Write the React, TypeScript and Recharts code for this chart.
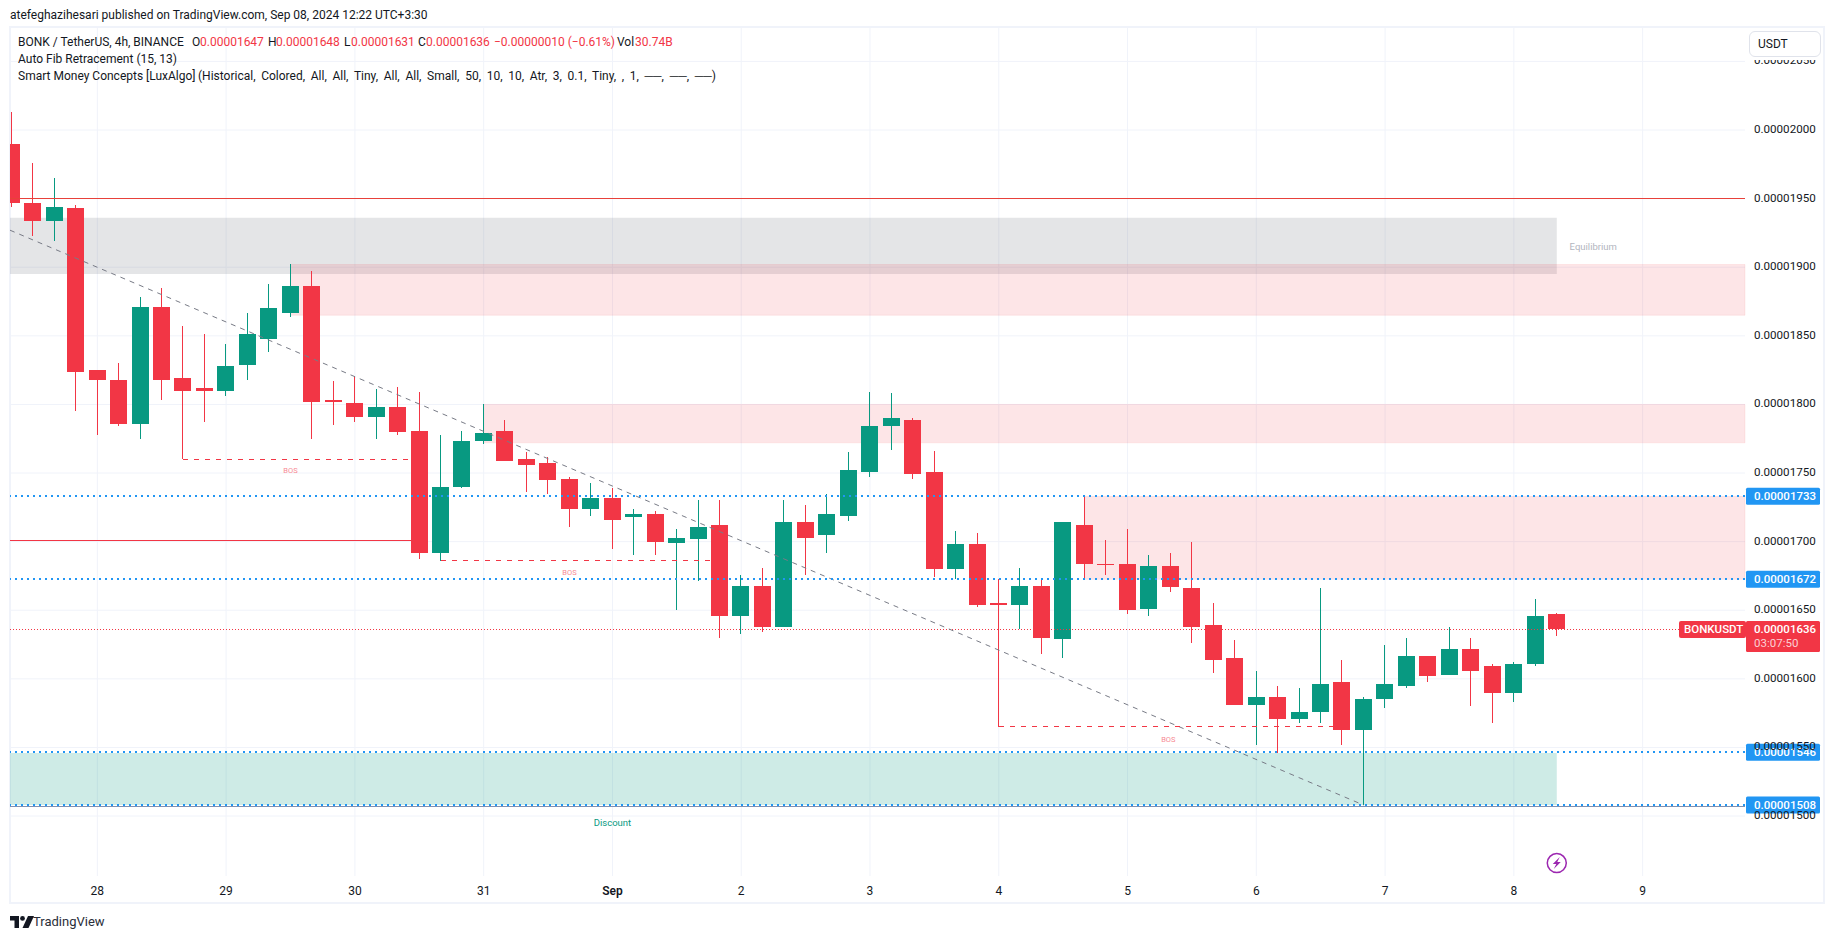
import React from 'react';
import {
  ComposedChart,
  Bar,
  XAxis,
  YAxis,
  CartesianGrid,
  ReferenceArea,
  ReferenceLine,
  ReferenceDot,
} from 'recharts';

// prices are kept in 1e-8 USDT so the arrays stay readable
const opens = [1990, 1947, 1934, 1943, 1825, 1818, 1786, 1871, 1819, 1812, 1810, 1829, 1848, 1867, 1886, 1803, 1801, 1791, 1798, 1781, 1692, 1740, 1773, 1781, 1760, 1757, 1746, 1724, 1732, 1718, 1720, 1699, 1702, 1712, 1646, 1668, 1638, 1714, 1705, 1719, 1751, 1784, 1789, 1751, 1680, 1698, 1655, 1654, 1668, 1629, 1712, 1684, 1684, 1651, 1682, 1666, 1639, 1615, 1581, 1587, 1571, 1576, 1598, 1563, 1585, 1595, 1617, 1603, 1622, 1609, 1590, 1611, 1647];
const highs = [2013, 1976, 1965, 1945, 1825, 1830, 1878, 1885, 1857, 1851, 1844, 1867, 1888, 1902, 1897, 1817, 1821, 1811, 1813, 1809, 1778, 1781, 1800, 1789, 1765, 1762, 1747, 1743, 1739, 1724, 1722, 1709, 1730, 1730, 1676, 1681, 1730, 1727, 1735, 1765, 1809, 1808, 1790, 1766, 1708, 1706, 1673, 1681, 1673, 1714, 1733, 1701, 1709, 1690, 1692, 1700, 1655, 1628, 1606, 1595, 1593, 1666, 1614, 1587, 1625, 1630, 1617, 1638, 1630, 1611, 1612, 1658, 1648];
const lows = [1944, 1923, 1919, 1795, 1778, 1784, 1775, 1803, 1760, 1787, 1806, 1818, 1838, 1864, 1775, 1785, 1787, 1775, 1778, 1687, 1686, 1739, 1771, 1759, 1736, 1735, 1711, 1719, 1695, 1690, 1690, 1650, 1671, 1630, 1633, 1634, 1638, 1676, 1692, 1715, 1747, 1767, 1746, 1674, 1673, 1652, 1565, 1636, 1618, 1615, 1673, 1676, 1647, 1646, 1663, 1626, 1604, 1581, 1552, 1546, 1568, 1568, 1552, 1508, 1579, 1593, 1598, 1603, 1580, 1568, 1583, 1609, 1631];
const closes = [1947, 1934, 1944, 1824, 1818, 1786, 1871, 1818, 1810, 1810, 1828, 1851, 1870, 1886, 1802, 1802, 1791, 1798, 1780, 1692, 1740, 1773, 1779, 1759, 1756, 1745, 1724, 1732, 1716, 1720, 1700, 1703, 1711, 1646, 1668, 1638, 1714, 1703, 1720, 1752, 1784, 1790, 1749, 1680, 1698, 1654, 1654, 1668, 1630, 1714, 1684, 1683, 1650, 1682, 1667, 1638, 1614, 1581, 1587, 1571, 1576, 1596, 1563, 1585, 1596, 1617, 1602, 1622, 1606, 1590, 1611, 1646, 1636];

const priceTicks = [1500, 1550, 1600, 1650, 1700, 1750, 1800, 1850, 1900, 1950, 2000, 2050];
const timeTicks = [4, 10, 16, 22, 28, 34, 40, 46, 52, 58, 64, 70, 76];
const timeLabels = ['28', '29', '30', '31', 'Sep', '2', '3', '4', '5', '6', '7', '8', '9'];

// zones: [from bar, top, bottom]
const supplyZones = [
  [13, 1902, 1865],
  [22, 1800, 1772],
  [50, 1733, 1672.5],
];
// labels show the level cut to 8 decimals
const fibLevels = [1733, 1672.5, 1546.5, 1508];
// BOS segments: [from bar, to bar, price], label: [bar, price]
const bosLines = [
  [8, 19, 1760],
  [20, 33, 1686],
  [46, 62, 1565],
];
const bosLabels = [
  [13, 1752],
  [26, 1678],
  [53.9, 1556.5],
];

const data = opens.map((open, i) => ({
  bar: i,
  open,
  high: highs[i],
  low: lows[i],
  close: closes[i],
}));

const UP = '#089981';
const DOWN = '#f23645';
const FONT = 'Roboto, sans-serif';
const X_MIN = -0.07;
const X_MAX = 80.77;

const fmt = (v: number) => (Math.floor(v) / 1e8).toFixed(8);

const Candle = (props: any) => {
  const { x, y, width, height, payload } = props;
  const { open, high, low, close } = payload;
  const k = height / (high - low);
  const top = y + (high - Math.max(open, close)) * k;
  const bodyH = Math.max(Math.abs(open - close) * k, 1);
  const color = close >= open ? UP : DOWN;
  const cx = x + width / 2;
  return (
    <g shapeRendering="crispEdges">
      <line x1={cx} x2={cx} y1={y} y2={y + height} stroke={color} strokeWidth={1} />
      <rect x={x} y={top} width={width} height={bodyH} fill={color} />
    </g>
  );
};

const TimeTick = (props: any) => {
  const { x, y, payload } = props;
  const label = timeLabels[timeTicks.indexOf(payload.value)];
  return (
    <text
      x={x}
      y={y}
      dy={11}
      textAnchor="middle"
      fontFamily={FONT}
      fontSize={12}
      fontWeight={label === 'Sep' ? 600 : 400}
      fill="#131722"
    >
      {label}
    </text>
  );
};

const PriceTick = (props: any) => {
  const { x, y, payload } = props;
  return (
    <text x={x} y={y} dy={3} fontFamily={FONT} fontSize={11.6} fill="#131722">
      {fmt(payload.value)}
    </text>
  );
};

const PriceTag = (props: any) => {
  const { cx, cy, text } = props;
  return (
    <g>
      <rect x={cx + 1} y={cy - 8.5} width={74} height={17} rx={1.5} fill="#2196f3" />
      <text x={cx + 9} y={cy + 4} fontFamily={FONT} fontSize={11.5} fontWeight={500} fill="#fff">
        {text}
      </text>
    </g>
  );
};

const LastPriceTag = (props: any) => {
  const { cx, cy } = props;
  return (
    <g>
      <rect x={cx - 66} y={cy - 8.5} width={67} height={17} rx={2} fill={DOWN} />
      <text x={cx - 61} y={cy + 4} fontFamily={FONT} fontSize={11.5} fontWeight={500} fill="#fff">
        BONKUSDT
      </text>
      <rect x={cx + 1} y={cy - 8.5} width={74} height={31} rx={1.5} fill={DOWN} />
      <text x={cx + 9} y={cy + 4} fontFamily={FONT} fontSize={11.5} fontWeight={500} fill="#fff">
        {fmt(closes[closes.length - 1])}
      </text>
      <text x={cx + 9} y={cy + 18} fontFamily={FONT} fontSize={11.5} fill="#fbd0d4">
        03:07:50
      </text>
    </g>
  );
};

const BoltIcon = (props: any) => {
  const { cx, cy } = props;
  return (
    <g>
      <circle cx={cx} cy={cy} r={9.5} fill="#fff" stroke="#9c27b0" strokeWidth={1.5} />
      <path
        d={`M${cx + 3} ${cy - 6} L${cx - 4} ${cy + 1} L${cx - 0.5} ${cy + 1} L${cx - 3} ${cy + 6} L${cx + 4} ${cy - 1} L${cx + 0.5} ${cy - 1} Z`}
        fill="#9c27b0"
      />
    </g>
  );
};

const SmallText = (props: any) => {
  const { cx, cy, text, color, size } = props;
  return (
    <text x={cx} y={cy} dy={3} textAnchor="middle" fontFamily={FONT} fontSize={size} fill={color}>
      {text}
    </text>
  );
};

const Leg = ({ left, top, color = '#131722', style, children }: any) => (
  <span style={{ position: 'absolute', left, top, color, whiteSpace: 'nowrap', lineHeight: '16px', ...style }}>{children}</span>
);

const App = () => {
  return (
    <div style={{ position: 'absolute', left: 0, top: 0, width: 1835, height: 939, background: '#fff', overflow: 'hidden', fontFamily: FONT, fontSize: 12 }}>
      <div style={{ position: 'absolute', left: 9, top: 26, width: 1816, height: 878, border: '2px solid #f0f3fa', boxSizing: 'border-box' }} />

      <ComposedChart
        width={1835}
        height={939}
        data={data}
        margin={{ top: 27, right: 10, bottom: 35, left: 10 }}
        style={{ position: 'absolute', left: 0, top: 0 }}
      >
        <CartesianGrid stroke="#f0f3fa" horizontalValues={priceTicks} verticalValues={timeTicks} />
        <XAxis
          dataKey="bar"
          type="number"
          domain={[X_MIN, X_MAX]}
          ticks={timeTicks}
          tick={<TimeTick />}
          height={28}
          axisLine={false}
          tickLine={false}
          allowDataOverflow
        />
        <YAxis
          orientation="right"
          type="number"
          domain={[1456.3, 2075.1]}
          ticks={priceTicks}
          width={80}
          axisLine={false}
          tickLine={false}
          tickMargin={3}
          tick={<PriceTick />}
          allowDataOverflow
        />

        <ReferenceArea x1={X_MIN} x2={72} y1={1936} y2={1895} fill="rgba(120,123,134,0.2)" fillOpacity={1} stroke="none" />
        <ReferenceArea x1={X_MIN} x2={72} y1={1546} y2={1508} fill="rgba(8,153,129,0.2)" fillOpacity={1} stroke="none" />
        {supplyZones.map(([from, top, bottom], i) => (
          <ReferenceArea
            key={i}
            x1={from}
            x2={X_MAX}
            y1={top}
            y2={bottom}
            fill="rgba(242,54,69,0.13)"
            fillOpacity={1}
            stroke="rgba(242,54,69,0.08)"
          />
        ))}

        <ReferenceLine y={1950} stroke="#e8413a" strokeWidth={1} shapeRendering="crispEdges" />
        <ReferenceLine segment={[{ x: X_MIN, y: 1701 }, { x: 19, y: 1701 }]} stroke={DOWN} strokeWidth={1} shapeRendering="crispEdges" />
        <ReferenceLine y={1506.6} stroke="#8090b0" strokeWidth={1} shapeRendering="crispEdges" />
        <ReferenceLine y={1636} stroke={DOWN} strokeWidth={1} strokeDasharray="1 2" shapeRendering="crispEdges" />
        <ReferenceLine
          segment={[{ x: X_MIN, y: 1927 }, { x: 63, y: 1508 }]}
          stroke="#787b86"
          strokeWidth={1}
          strokeDasharray="5 5"
        />
        {bosLines.map(([from, to, price], i) => (
          <ReferenceLine
            key={i}
            segment={[{ x: from, y: price }, { x: to, y: price }]}
            stroke={DOWN}
            strokeWidth={1}
            strokeDasharray="5 6"
            shapeRendering="crispEdges"
          />
        ))}
        {fibLevels.map((level) => (
          <ReferenceLine key={level} y={level} stroke="#2196f3" strokeWidth={2} strokeDasharray="2 4" shapeRendering="crispEdges" />
        ))}

        <Bar
          dataKey={(d: any) => [d.low, d.high]}
          barSize={17}
          shape={<Candle />}
          isAnimationActive={false}
        />

        {bosLabels.map(([bar, price], i) => (
          <ReferenceDot
            key={i}
            x={bar}
            y={price}
            ifOverflow="visible"
            shape={<SmallText text="BOS" color="#f78a94" size={7.5} />}
          />
        ))}
        <ReferenceDot x={73.7} y={1915} ifOverflow="visible" shape={<SmallText text="Equilibrium" color="#b2b5be" size={9.5} />} />
        <ReferenceDot x={28} y={1495} ifOverflow="visible" shape={<SmallText text="Discount" color={UP} size={9.5} />} />
        <ReferenceDot x={72} y={1465.7} ifOverflow="visible" shape={<BoltIcon />} />

        {fibLevels.map((level) => (
          <ReferenceDot key={level} x={X_MAX} y={level} ifOverflow="visible" shape={<PriceTag text={fmt(level)} />} />
        ))}
        <ReferenceDot x={X_MAX} y={1636} ifOverflow="visible" shape={<LastPriceTag />} />
      </ComposedChart>

      <Leg left={10} top={7}>atefeghazihesari published on TradingView.com, Sep 08, 2024 12:22 UTC+3:30</Leg>

      <Leg left={18} top={34}>BONK / TetherUS, 4h, BINANCE</Leg>
      <Leg left={192} top={34}>O</Leg>
      <Leg left={200} top={34} color={DOWN}>0.00001647</Leg>
      <Leg left={268} top={34}>H</Leg>
      <Leg left={276} top={34} color={DOWN}>0.00001648</Leg>
      <Leg left={344} top={34}>L</Leg>
      <Leg left={351} top={34} color={DOWN}>0.00001631</Leg>
      <Leg left={418} top={34}>C</Leg>
      <Leg left={426} top={34} color={DOWN}>0.00001636</Leg>
      <Leg left={494} top={34} color={DOWN}>−0.00000010 (−0.61%)</Leg>
      <Leg left={617} top={34}>Vol</Leg>
      <Leg left={635} top={34} color={DOWN}>30.74B</Leg>
      <Leg left={18} top={51}>Auto Fib Retracement (15, 13)</Leg>
      <Leg left={18} top={68}>Smart Money Concepts [LuxAlgo]</Leg>
      <Leg left={198} top={68} style={{ wordSpacing: 2.7 }}>(Historical, Colored, All, All, Tiny, All, All, Small, 50, 10, 10, Atr, 3, 0.1, Tiny, , 1, ──, ──, ──)</Leg>

      <div style={{ position: 'absolute', left: 1747, top: 57, width: 76, height: 3, background: '#fff' }} />
      <div style={{ position: 'absolute', left: 1749, top: 31, width: 72, height: 26, boxSizing: 'border-box', border: '1px solid #e0e3eb', borderRadius: 6, background: '#fff', color: '#131722', lineHeight: '24px', paddingLeft: 8, fontSize: 12 }}>USDT</div>

      <svg style={{ position: 'absolute', left: 10, top: 916 }} width={24} height={12} viewBox="0 0 24 12">
        <path d="M0 0 H9 V12 H4.5 V4.5 H0 Z" fill="#131722" />
        <circle cx={12.5} cy={2.4} r={2.4} fill="#131722" />
        <path d="M18 0 H24 L18.5 12 H12.5 Z" fill="#131722" />
      </svg>
      <Leg left={33} top={914} color="#2a2e39" style={{ fontSize: 13 }}>TradingView</Leg>
    </div>
  );
};

export default App;
